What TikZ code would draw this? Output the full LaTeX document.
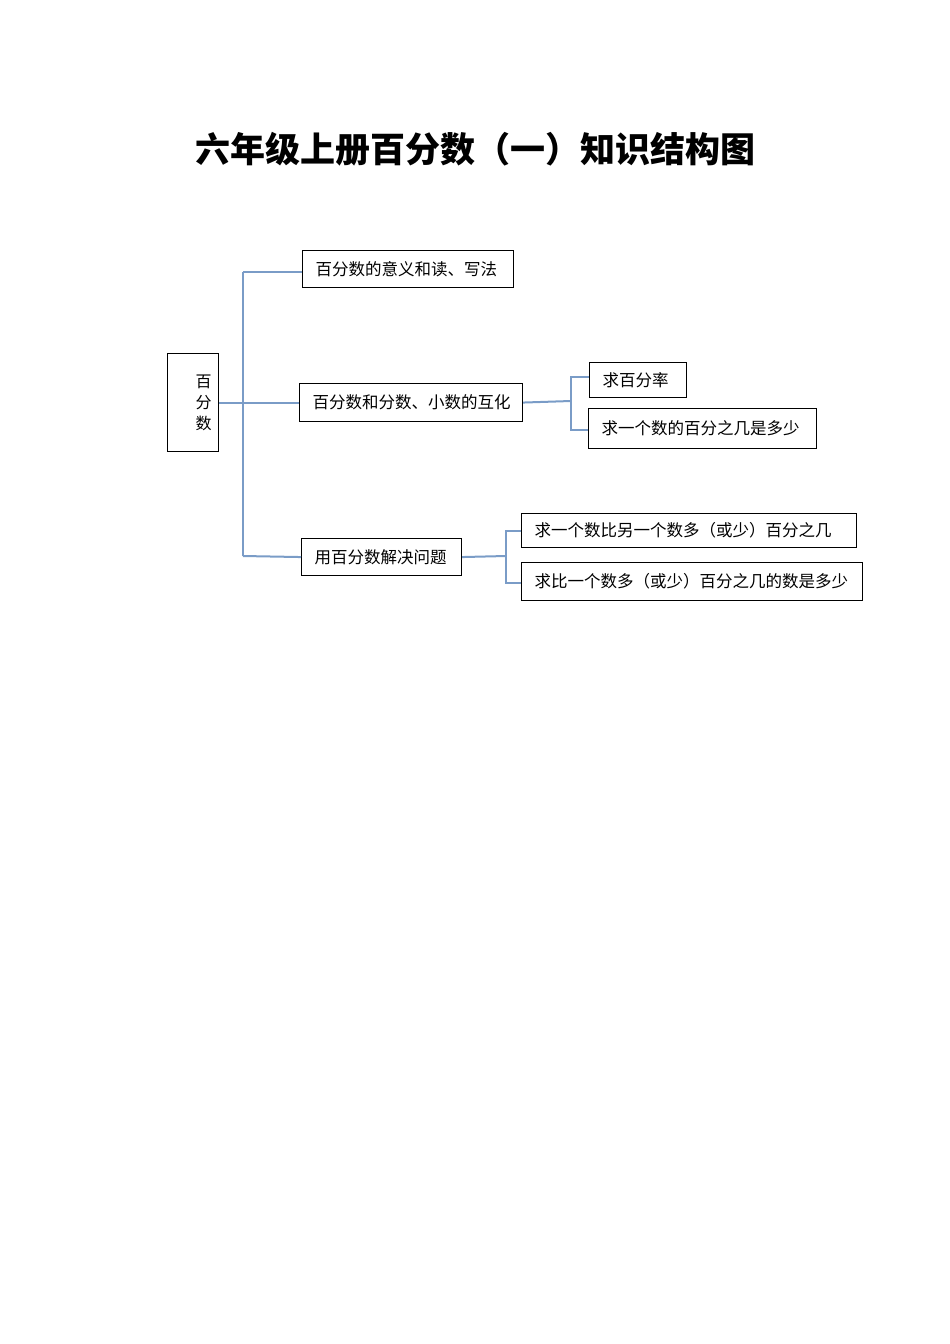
\documentclass[tikz,border=0pt]{standalone}
\usepackage{fontspec}
\newfontfamily\cjk{Noto Sans CJK SC}
\definecolor{linkblue}{RGB}{122,156,199}
\begin{document}
\begin{tikzpicture}[x=1pt,y=-1pt,
  box/.style={draw=black, line width=1.1pt, inner xsep=13pt, inner ysep=0pt, align=left,
    font=\cjk\fontsize{16.5}{21}\selectfont, anchor=north west},
  link/.style={draw=linkblue, line width=2pt}]
\useasboundingbox (0,0) rectangle (950,1344);
\node[font=\cjk\bfseries\fontsize{35}{40}\selectfont] (title) at (475,149) {六年级上册百分数（一）知识结构图};
% root
\node[draw=black, line width=1.1pt, anchor=north west, minimum width=51pt, minimum height=98pt,
  inner xsep=7pt, inner ysep=0pt, text width=37pt, align=right,
  font=\cjk\fontsize{16}{21}\selectfont] (root) at (167,353) {百\\分\\数};
% level 1
\node[box, minimum width=211pt, minimum height=37pt, text width=185pt] (b1) at (302,250) {\mbox{百分数的意义和读、写法}};
\node[box, minimum width=223pt, minimum height=38pt, text width=197pt] (b2) at (299,383) {\mbox{百分数和分数、小数的互化}};
\node[box, minimum width=160pt, minimum height=37pt, text width=134pt] (b3) at (301,538) {\mbox{用百分数解决问题}};
% level 2
\node[box, minimum width=97pt, minimum height=35pt, text width=71pt] (b4) at (589,362) {\mbox{求百分率}};
\node[box, minimum width=228pt, minimum height=40pt, text width=202pt] (b5) at (588,408) {\mbox{求一个数的百分之几是多少}};
\node[box, minimum width=335pt, minimum height=34pt, text width=309pt] (b6) at (521,513) {\mbox{求一个数比另一个数多（或少）百分之几}};
\node[box, minimum width=341pt, minimum height=38pt, text width=315pt] (b7) at (521,562) {\mbox{求比一个数多（或少）百分之几的数是多少}};
% connectors
\coordinate (t1) at (243,272);
\coordinate (t3) at (243,556);
\draw[link] (root.east) -- (b2.west);
\draw[link] (t1) -- (t3);
\draw[link] (t1) -- (t1 -| b1.west);
\draw[link] (t3) -- (b3.west);
\coordinate (s2) at (571,401);
\coordinate (s2a) at (571,377);
\coordinate (s2b) at (571,430);
\draw[link] (b2.east) -- (s2);
\draw[link] (s2a -| b4.west) -- (s2a) -- (s2b) -- (s2b -| b5.west);
\coordinate (s3) at (506,556);
\coordinate (s3a) at (506,531);
\coordinate (s3b) at (506,583);
\draw[link] (b3.east) -- (s3);
\draw[link] (s3a -| b6.west) -- (s3a) -- (s3b) -- (s3b -| b7.west);
\end{tikzpicture}
\end{document}
